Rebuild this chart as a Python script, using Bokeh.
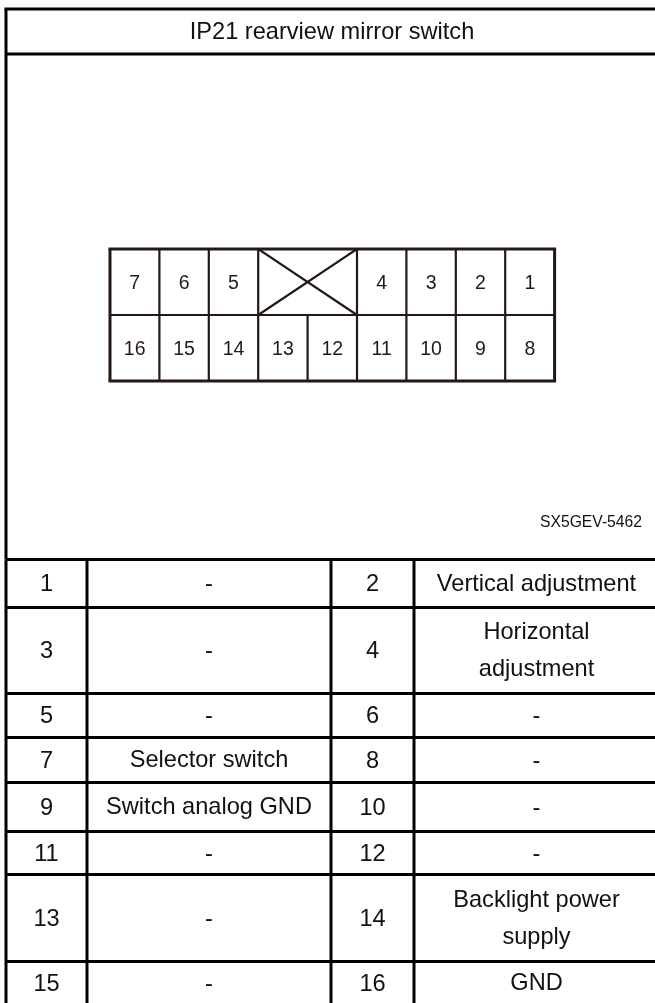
from bokeh.core.properties import value
from bokeh.embed import file_html
from bokeh.models import ColumnDataSource, Range1d
from bokeh.plotting import figure
from bokeh.resources import INLINE

title = "IP21 rearview mirror switch"
drawing_code = "SX5GEV-5462"

# Connector cavities, left to right
connector_top = ["7", "6", "5", None, None, "4", "3", "2", "1"]
connector_bottom = ["16", "15", "14", "13", "12", "11", "10", "9", "8"]

# Pin table
pin_left = ["1", "3", "5", "7", "9", "11", "13", "15"]
func_left = ["-", "-", "-", "Selector switch", "Switch analog GND", "-", "-", "-"]
pin_right = ["2", "4", "6", "8", "10", "12", "14", "16"]
func_right = ["Vertical adjustment", "Horizontal\nadjustment", "-", "-", "-", "-",
              "Backlight power\nsupply", "GND"]

# Layout (page pixels)
W, H = 655, 1003
LEFT, TOP, TITLE_BOTTOM = 5.5, 8.5, 53.5
ROW_EDGES = [559, 607, 693, 737, 782, 831, 874, 961, 1004]
COL_EDGES = [5.5, 86.5, 330.5, 413.5, 655]
TEXT_COL_X = [46, 208.5, 372, 536]
CONN_X0, CONN_DX = 109.5, 49.4
CONN_Y = [248.5, 314.5, 380.5]
TABLE_FONT, TITLE_FONT, PIN_FONT, CODE_FONT = "23.6px", "23.6px", "19.5px", "15.7px"
LINE_GAP = 37
FONT = value("Liberation Sans")

p = figure(width=W, height=H, x_range=Range1d(0, W), y_range=Range1d(H, 0),
           min_border=0, outline_line_color=None, toolbar_location=None,
           output_backend="svg", x_axis_location=None, y_axis_location=None,
           background_fill_color="white", border_fill_color="white")
p.grid.visible = False
p.styles = {"position": "fixed", "left": "0px", "top": "0px"}


def lines(segs, color, width):
    p.multi_line([[s[0], s[2]] for s in segs], [[s[1], s[3]] for s in segs],
                 line_color=color, line_width=width, line_cap="butt")


def labels(xs, ys, texts, size, color="#111111"):
    src = ColumnDataSource(dict(x=xs, y=ys, t=texts))
    p.text("x", "y", text="t", source=src, text_font=FONT, text_font_size=value(size),
           text_align="center", text_baseline="middle", text_color=color)


# Frame and table rules
frame = [(LEFT - 1.5, TOP, W, TOP), (LEFT, TITLE_BOTTOM, W, TITLE_BOTTOM),
         (LEFT, TOP, LEFT, ROW_EDGES[0])]
frame += [(LEFT, y, W, y) for y in ROW_EDGES[:-1]]
frame += [(x, ROW_EDGES[0], x, H) for x in COL_EDGES[:-1]]
lines(frame, "black", 3)

labels([331.5], [(TOP + TITLE_BOTTOM) / 2 - 1], [title], TITLE_FONT)
labels([590.5], [521], [drawing_code], CODE_FONT)

# Table text
xs, ys, ts = [], [], []
for r in range(len(pin_left)):
    cy = (ROW_EDGES[r] + ROW_EDGES[r + 1]) / 2 - 1
    for c, cell in enumerate((pin_left[r], func_left[r], pin_right[r], func_right[r])):
        parts = cell.split("\n")
        for k, part in enumerate(parts):
            xs.append(TEXT_COL_X[c])
            ys.append(cy + (k - (len(parts) - 1) / 2) * LINE_GAP)
            ts.append(part)
labels(xs, ys, ts, TABLE_FONT)

# Connector
n = len(connector_top)
edge = [CONN_X0 + i * CONN_DX for i in range(n + 1)]
INK = "#231815"
inner = [(edge[0], CONN_Y[1], edge[-1], CONN_Y[1])]
for i in range(1, n):
    top_open = connector_top[i - 1] is None and connector_top[i] is None
    inner.append((edge[i], CONN_Y[1] if top_open else CONN_Y[0], edge[i], CONN_Y[2]))
blank = [i for i, t in enumerate(connector_top) if t is None]
a, b = edge[blank[0]], edge[blank[-1] + 1]
inner += [(a, CONN_Y[0], b, CONN_Y[1]), (a, CONN_Y[1], b, CONN_Y[0])]
lines(inner, INK, 2.2)
outer = [(edge[0] - 1.5, CONN_Y[0], edge[-1] + 1.5, CONN_Y[0]),
         (edge[0] - 1.5, CONN_Y[2], edge[-1] + 1.5, CONN_Y[2]),
         (edge[0], CONN_Y[0], edge[0], CONN_Y[2]),
         (edge[-1], CONN_Y[0], edge[-1], CONN_Y[2])]
lines(outer, INK, 3)

xs, ys, ts = [], [], []
for row, y in ((connector_top, (CONN_Y[0] + CONN_Y[1]) / 2), (connector_bottom, (CONN_Y[1] + CONN_Y[2]) / 2)):
    for i, t in enumerate(row):
        if t is not None:
            xs.append((edge[i] + edge[i + 1]) / 2)
            ys.append(y)
            ts.append(t)
labels(xs, ys, ts, PIN_FONT, INK)

open("out.html", "w").write(file_html(p, INLINE))
